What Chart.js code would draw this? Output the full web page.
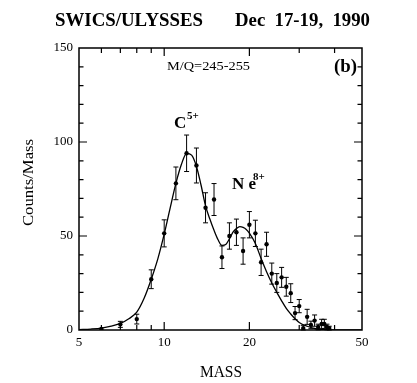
<!DOCTYPE html>
<html>
<head>
<meta charset="utf-8">
<script src="https://cdn.jsdelivr.net/npm/chart.js@4.4.1/dist/chart.umd.min.js"></script>
<style>
html,body{margin:0;padding:0;background:#fff;}
#wrap{width:417px;height:383px;position:relative;}
</style>
</head>
<body>
<div id="wrap"><canvas id="c" width="417" height="383"></canvas></div>
<script>
// ---- data ----
const massPoints = [6,7,8,9,10,11,12,13,14,15,16,17,18,19,20,21,22,23,24,25,26,27,28,29,30,31,32,33,34,35,36,36.8,37.6,38.3];
const countPoints = [0.5,3,5.8,27,51.4,78,94,87.5,65,69.4,38.7,50,52,42,56,51.4,36,45.6,30,25,28,23,19.6,9,12.7,1,7,2.7,5,1.6,3.2,3.2,1.6,1];
const countErrors = [0.4,1.6,2.6,5,7.2,8.7,9.7,9.3,8,8.5,6,7,7,7,7,7,7,6.4,5.6,5,5.3,5,5,3.5,3.5,1.5,4,2,3,1.5,2.5,2.5,1.5,1];

const fitMass = [5,5.5,6,6.5,7,7.5,8,8.5,9,9.5,10,10.5,11,11.5,12,12.5,13,13.5,14,14.5,15,15.5,16,16.5,17,17.5,18,18.5,19,19.5,20,21,22,23,24,25,26,27,28,29,30,32,34,36,38,40,45,50];
const fitCounts = [0.2,0.5,1,2,3.5,6,9.5,17,27,38,51,65,78,88,94,93,87,77,66,59,53,48,45,45.5,48.5,52,54,55,54.6,53.5,51.5,46,38,31,25,20,15.5,11.5,8.5,6,4,2,0.8,0.3,0.1,0,0,0];

const xTickLabels = [5,10,20,50];
const xMinorTicks = [6,7,8,9,30,40];
const xMajorTicks = [10,20];
const yTickLabels = [0,50,100,150];

const SERIF = "'Liberation Serif','DejaVu Serif',serif";

function fitText(ctx, text, x, y, width, align){
  const w = ctx.measureText(text).width;
  const s = width / w;
  ctx.save();
  ctx.translate(x, y);
  ctx.scale(s, 1);
  ctx.textAlign = align || 'left';
  ctx.fillText(text, 0, 0);
  ctx.restore();
}

const decorPlugin = {
  id: 'decor',
  afterDatasetsDraw(chart){
    const ctx = chart.ctx;
    const xs = chart.scales.x, ys = chart.scales.y;
    ctx.save();
    ctx.strokeStyle = '#000';
    ctx.lineWidth = 1;
    for (let i = 0; i < massPoints.length; i++){
      const px = xs.getPixelForValue(massPoints[i]);
      const top = ys.getPixelForValue(countPoints[i] + countErrors[i]);
      const bot = ys.getPixelForValue(Math.max(0, countPoints[i] - countErrors[i]));
      if (bot - top < 2) continue;
      ctx.beginPath();
      ctx.moveTo(px, top); ctx.lineTo(px, bot);
      ctx.moveTo(px - 2.5, top); ctx.lineTo(px + 2.5, top);
      ctx.moveTo(px - 2.5, bot); ctx.lineTo(px + 2.5, bot);
      ctx.stroke();
    }
    ctx.restore();
  },
  afterDraw(chart){
    const ctx = chart.ctx;
    const a = chart.chartArea;
    const xs = chart.scales.x, ys = chart.scales.y;
    ctx.save();
    ctx.strokeStyle = '#000';
    ctx.fillStyle = '#000';
    ctx.lineWidth = 1.5;
    ctx.strokeRect(a.left, a.top, a.right - a.left, a.bottom - a.top);
    ctx.lineWidth = 1.2;
    ctx.beginPath();
    const xt = xMinorTicks.map(v => [v, 5]).concat(xMajorTicks.map(v => [v, 8]));
    xt.forEach(([v, len]) => {
      const px = xs.getPixelForValue(v);
      ctx.moveTo(px, a.bottom); ctx.lineTo(px, a.bottom - len);
      ctx.moveTo(px, a.top); ctx.lineTo(px, a.top + len);
    });
    for (let v = 10; v < 150; v += 10){
      const len = (v % 50 === 0) ? 8 : 4.5;
      const py = ys.getPixelForValue(v);
      ctx.moveTo(a.left, py); ctx.lineTo(a.left + len, py);
      ctx.moveTo(a.right, py); ctx.lineTo(a.right - len, py);
    }
    ctx.stroke();

    ctx.textBaseline = 'alphabetic';
    ctx.font = "bold 18px " + SERIF;
    fitText(ctx, 'SWICS/ULYSSES', 55, 26, 148);
    fitText(ctx, 'Dec  17-19,  1990', 235, 26, 135);

    ctx.font = "16px " + SERIF;
    fitText(ctx, 'MASS', 200, 377, 42);
    ctx.save();
    ctx.translate(33, 226);
    ctx.rotate(-Math.PI / 2);
    ctx.font = "15px " + SERIF;
    fitText(ctx, 'Counts/Mass', 0, 0, 87);
    ctx.restore();

    ctx.font = "13px " + SERIF;
    fitText(ctx, 'M/Q=245-255', 167, 70, 83);
    ctx.font = "bold 18px " + SERIF;
    fitText(ctx, '(b)', 334, 72, 23);

    ctx.font = "bold 17px " + SERIF;
    ctx.fillText('C', 174, 128);
    ctx.font = "bold 11px " + SERIF;
    ctx.fillText('5+', 187, 119);

    ctx.font = "bold 17px " + SERIF;
    ctx.fillText('N e', 232, 189);
    ctx.font = "bold 11px " + SERIF;
    ctx.fillText('8+', 253, 180);
    ctx.restore();
  }
};

new Chart(document.getElementById('c'), {
  type: 'scatter',
  data: {
    datasets: [
      {
        label: 'fit',
        data: fitMass.map((m, i) => ({x: m, y: fitCounts[i]})),
        showLine: true,
        borderColor: '#000',
        borderWidth: 1.3,
        pointRadius: 0,
        cubicInterpolationMode: 'monotone',
        fill: false
      },
      {
        label: 'data',
        data: massPoints.map((m, i) => ({x: m, y: countPoints[i]})),
        showLine: false,
        pointRadius: 2.2,
        pointBackgroundColor: '#000',
        pointBorderColor: '#000',
        pointBorderWidth: 0
      }
    ]
  },
  options: {
    responsive: false,
    animation: false,
    devicePixelRatio: 1,
    layout: { padding: { left: 0, right: 55, top: 48, bottom: 0 } },
    plugins: { legend: { display: false }, tooltip: { enabled: false }, title: { display: false } },
    scales: {
      x: {
        type: 'logarithmic',
        min: 5, max: 50,
        grid: { display: false, drawTicks: false, tickLength: 0 },
        border: { display: false },
        afterBuildTicks: (s) => { s.ticks = xTickLabels.map(v => ({value: v})); },
        afterFit: (s) => { s.height = 53; },
        ticks: {
          color: '#000',
          padding: 5,
          maxRotation: 0,
          autoSkip: false,
          font: { family: SERIF, size: 13 },
          callback: (v) => String(v)
        }
      },
      y: {
        min: 0, max: 150,
        grid: { display: false, drawTicks: false, tickLength: 0 },
        border: { display: false },
        afterBuildTicks: (s) => { s.ticks = yTickLabels.map(v => ({value: v})); },
        afterFit: (s) => { s.width = 79; },
        ticks: {
          color: '#000',
          padding: 6,
          font: { family: SERIF, size: 13 },
          callback: (v) => String(v)
        }
      }
    }
  },
  plugins: [decorPlugin]
});
</script>
</body>
</html>
